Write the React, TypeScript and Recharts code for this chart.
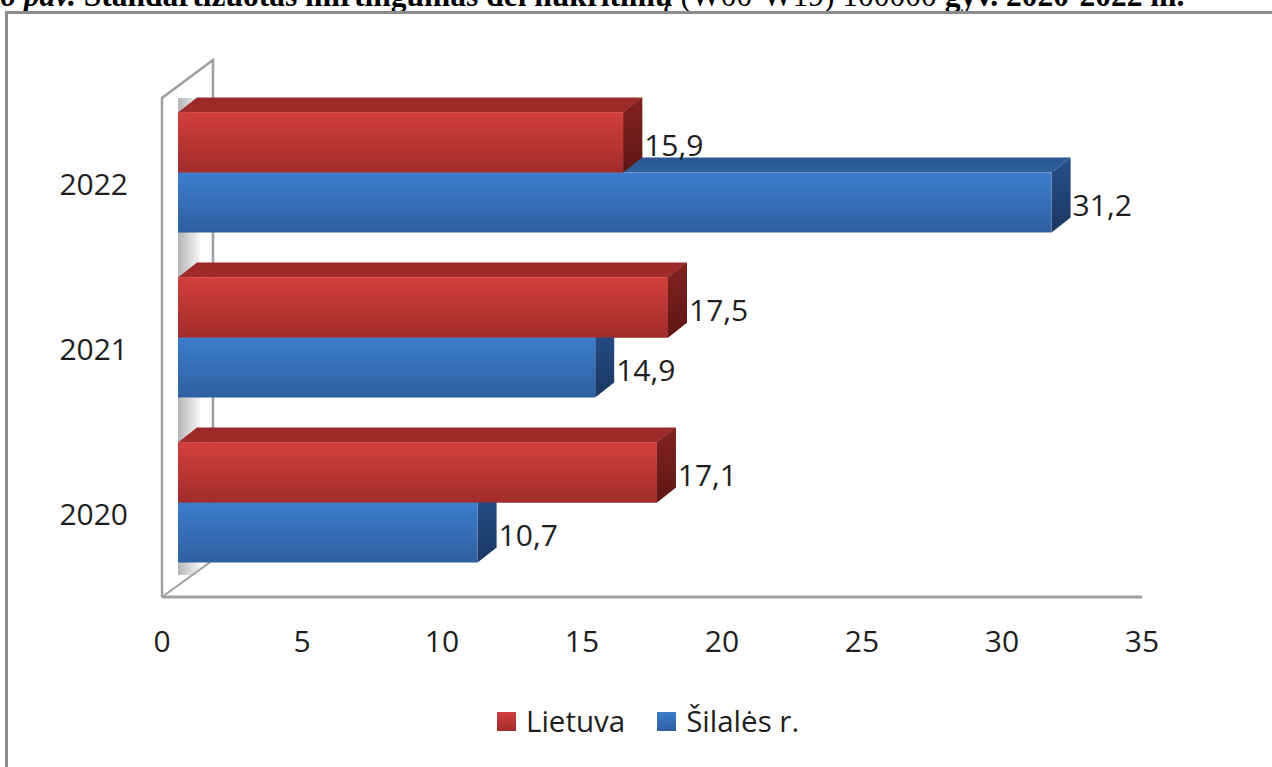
import React from "react";
import { BarChart, Bar, XAxis, YAxis, LabelList, ReferenceArea } from "recharts";

const years = ["2022", "2021", "2020"];
const lietuva = [15.9, 17.5, 17.1];
const silales = [31.2, 14.9, 10.7];
const xTicks = [0, 5, 10, 15, 20, 25, 30, 35];
const seriesNames = ["Lietuva", "Šilalės r."];
const titleParts = ["6 pav. ", "Standartizuotas mirtingumas dėl nukritimų ", "(W00-W19) 100000 ", "gyv. 2020-2022 m."];

const data = years.map((year, i) => ({ year, lietuva: lietuva[i], silales: silales[i] }));

const FONT = "'Open Sans', sans-serif";
const TEXT = "#1e1e1e";
const DX = 19;
const DY = 15;
const WALL = "#a0a0a0";

// 3D-ish bar: front face, top face, right side face
function faces(x: number, y: number, w: number, h: number, id: string, skipTop = false) {
  return (
    <g>
      {!skipTop && (
        <polygon
          points={`${x},${y} ${x + DX},${y - DY} ${x + w + DX},${y - DY} ${x + w},${y}`}
          fill={`url(#${id}Top)`}
        />
      )}
      <polygon
        points={`${x + w},${y} ${x + w + DX},${y - DY} ${x + w + DX},${y + h - DY} ${x + w},${y + h}`}
        fill={`url(#${id}Side)`}
      />
      <rect x={x} y={y} width={w} height={h} fill={`url(#${id}Front)`} />
    </g>
  );
}

const RedBar = (props: any) => {
  const { x, y, width, height } = props;
  return faces(x, y, width, height, "red");
};

// lower bar of each pair: drawn after the red one, so repaint the red bar's
// front and side on top to keep the 3D overlap right
const BlueBar = (props: any) => {
  const { x, y, width, height, payload } = props;
  const perUnit = width / payload.silales;
  const redW = payload.lietuva * perUnit;
  return (
    <g>
      {faces(x, y, width, height, "blue")}
      {faces(x, y - height, redW, height, "red", true)}
    </g>
  );
};

const valueLabel = (props: any) => {
  const { x, y, width, height, value } = props;
  return (
    <text
      x={x + width + DX + 2}
      y={y + height / 2 + 2}
      fontFamily={FONT}
      fontSize={30}
      fill={TEXT}
      dominantBaseline="central"
    >
      {String(value).replace(".", ",")}
    </text>
  );
};

const Wall = (props: any) => {
  const { x, y, width, height } = props;
  const left = x - 16;
  const floorY = y + height + 12.5;
  const wallTop = y + 8.5;
  const back = left + 51;
  return (
    <g>
      <rect x={x} y={wallTop} width={22} height={floorY - 22 - wallTop} fill="url(#wallShade)" />
      <path
        d={`M${left},${floorY} L${left},${wallTop} L${back},${wallTop - 38} L${back},${floorY - 37}`}
        fill="none"
        stroke={WALL}
        strokeWidth={2.5}
      />
      <path d={`M${left},${floorY} L${back},${floorY - 37}`} stroke={WALL} strokeWidth={2} />
      <path d={`M${left},${floorY} L${left + width},${floorY}`} stroke={WALL} strokeWidth={3} />
    </g>
  );
};

const XTick = (props: any) => {
  const { x, y, payload } = props;
  return (
    <text x={x - 16} y={y + 55.5} textAnchor="middle" dominantBaseline="central" fontFamily={FONT} fontSize={30} fill={TEXT}>
      {payload.value}
    </text>
  );
};

const YTick = (props: any) => {
  const { x, y, payload } = props;
  return (
    <text x={x - 50} y={y + 11} textAnchor="end" dominantBaseline="central" fontFamily={FONT} fontSize={30} fill={TEXT}>
      {payload.value}
    </text>
  );
};

const swatches = ["linear-gradient(#d13f3c, #a12c2b)", "linear-gradient(#3d7dcc, #2f5f9f)"];

export default function App() {
  return (
    <div style={{ position: "absolute", left: 0, top: 0, width: 1272, height: 767, background: "#fff", overflow: "hidden" }}>
      <svg width={1272} height={20} style={{ position: "absolute", left: 0, top: 0 }}>
        <text x={0} y={6} fontFamily="'Liberation Serif', serif" fontWeight="bold" fontSize={31.5} fill="#000">
          <tspan fontStyle="italic">{titleParts[0]}</tspan>
          <tspan>{titleParts[1]}</tspan>
          <tspan fontWeight="normal">{titleParts[2]}</tspan>
          <tspan>{titleParts[3]}</tspan>
        </text>
      </svg>
      <div
        style={{
          position: "absolute",
          left: 5,
          top: 11,
          width: 1300,
          height: 800,
          borderLeft: "3px solid #8c8c8c",
          borderTop: "3px solid #8c8c8c",
        }}
      />
      <div style={{ position: "absolute", left: 0, top: 0 }}>
        <BarChart
          width={1272}
          height={767}
          data={data}
          layout="vertical"
          margin={{ top: 89.5, right: 114, left: 78, bottom: 122.5 }}
          barGap={0}
        >
          <defs>
            <linearGradient id="redFront" x1="0" y1="0" x2="0" y2="1">
              <stop offset="0%" stopColor="#d13f3c" />
              <stop offset="100%" stopColor="#a12c2b" />
            </linearGradient>
            <linearGradient id="redTop" x1="0" y1="0" x2="0" y2="1">
              <stop offset="0%" stopColor="#9a2a28" />
              <stop offset="100%" stopColor="#a02b2a" />
            </linearGradient>
            <linearGradient id="redSide" x1="0" y1="0" x2="0" y2="1">
              <stop offset="0%" stopColor="#812220" />
              <stop offset="100%" stopColor="#5e1716" />
            </linearGradient>
            <linearGradient id="blueFront" x1="0" y1="0" x2="0" y2="1">
              <stop offset="0%" stopColor="#3d7dcc" />
              <stop offset="100%" stopColor="#2f5f9f" />
            </linearGradient>
            <linearGradient id="blueTop" x1="0" y1="0" x2="0" y2="1">
              <stop offset="0%" stopColor="#2b5891" />
              <stop offset="100%" stopColor="#305f9c" />
            </linearGradient>
            <linearGradient id="blueSide" x1="0" y1="0" x2="0" y2="1">
              <stop offset="0%" stopColor="#27508a" />
              <stop offset="100%" stopColor="#1b3761" />
            </linearGradient>
            <linearGradient id="wallShade" x1="0" y1="0" x2="1" y2="0">
              <stop offset="0%" stopColor="#b5b5b5" />
              <stop offset="100%" stopColor="#f6f6f6" />
            </linearGradient>
          </defs>
          <XAxis
            type="number"
            domain={[0, 35]}
            ticks={xTicks}
            height={60}
            axisLine={false}
            tickLine={false}
            tickSize={0}
            tickMargin={0}
            tick={<XTick />}
            interval={0}
          />
          <YAxis
            type="category"
            dataKey="year"
            width={100}
            axisLine={false}
            tickLine={false}
            tickSize={0}
            tickMargin={0}
            tick={<YTick />}
          />
          <ReferenceArea x1={0} x2={35} ifOverflow="visible" shape={<Wall />} />
          <Bar dataKey="lietuva" name={seriesNames[0]} barSize={60} shape={<RedBar />} isAnimationActive={false}>
            <LabelList dataKey="lietuva" content={valueLabel} />
          </Bar>
          <Bar dataKey="silales" name={seriesNames[1]} barSize={60} shape={<BlueBar />} isAnimationActive={false}>
            <LabelList dataKey="silales" content={valueLabel} />
          </Bar>
        </BarChart>
      </div>
      <div
        style={{
          position: "absolute",
          left: 497,
          top: 700,
          display: "flex",
          alignItems: "center",
          fontFamily: FONT,
          fontSize: 29.5,
          color: TEXT,
          lineHeight: "42px",
        }}
      >
        {seriesNames.map((name, i) => (
          <div key={name} style={{ display: "flex", alignItems: "center", marginRight: 32 }}>
            <span style={{ width: 19, height: 19, background: swatches[i], marginRight: 10, display: "inline-block" }} />
            {name}
          </div>
        ))}
      </div>
    </div>
  );
}
